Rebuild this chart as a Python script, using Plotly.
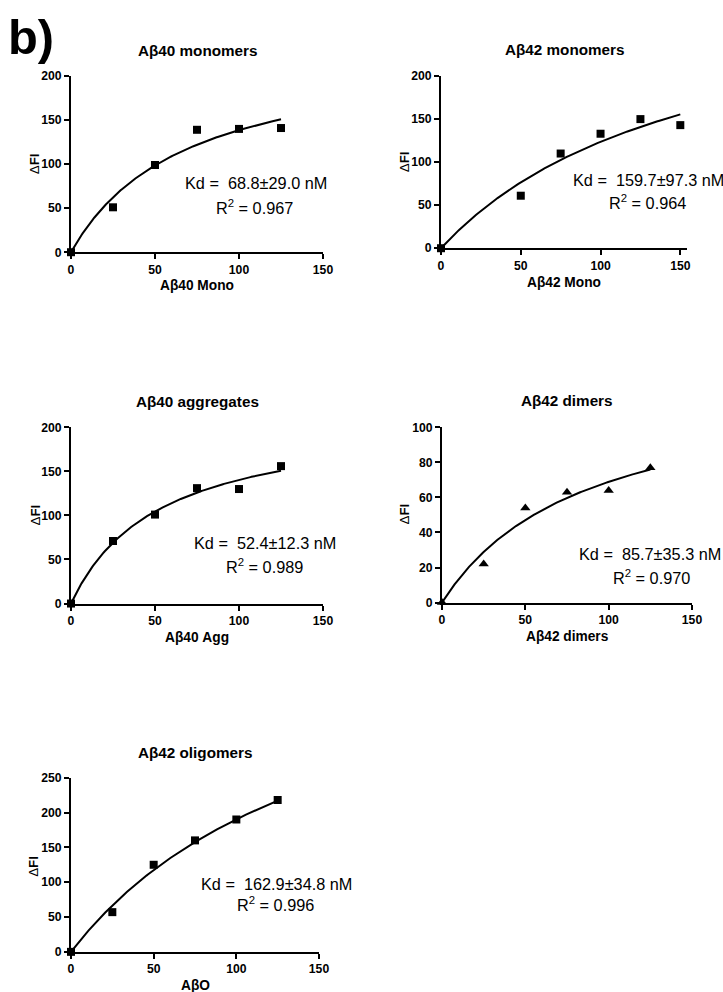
import plotly.graph_objects as go

W, H = 723, 992
FONT = "Liberation Sans"

# ---- data ----
titles = ["Aβ40 monomers", "Aβ42 monomers", "Aβ40 aggregates", "Aβ42 dimers", "Aβ42 oligomers"]
xtitles = ["Aβ40 Mono", "Aβ42 Mono", "Aβ40 Agg", "Aβ42 dimers", "AβO"]

conc_40mono = [0, 25, 50, 75, 100, 125]
fi_40mono = [0, 51, 99, 139, 140, 141]
conc_42mono = [0, 50, 75, 100, 125, 150]
fi_42mono = [0, 61, 110, 133, 150, 143]
conc_40agg = [0, 25, 50, 75, 100, 125]
fi_40agg = [0, 71, 101, 131, 130, 156]
conc_42dim = [0, 25, 50, 75, 100, 125]
fi_42dim = [0, 22, 54, 63, 64, 77]
conc_42olig = [0, 25, 50, 75, 100, 125]
fi_42olig = [0, 57, 125, 160, 190, 218]

# one-site binding fit parameters
kd_vals = [68.8, 159.7, 52.4, 85.7, 162.9]
bmax_vals = [234, 321, 214, 128, 500]
kd_text = ["68.8±29.0", "159.7±97.3", "52.4±12.3", "85.7±35.3", "162.9±34.8"]
r2_text = ["0.967", "0.964", "0.989", "0.970", "0.996"]

yticks = [[0, 50, 100, 150, 200], [0, 50, 100, 150, 200], [0, 50, 100, 150, 200],
          [0, 20, 40, 60, 80, 100], [0, 50, 100, 150, 200, 250]]
xticks = [0, 50, 100, 150]
markers = ["square", "square", "square", "triangle-up", "square"]

xs = [conc_40mono, conc_42mono, conc_40agg, conc_42dim, conc_42olig]
ys = [fi_40mono, fi_42mono, fi_40agg, fi_42dim, fi_42olig]

# ---- layout (target pixel geometry in the final picture) ----
geom = [
    (70, 322, 76, 252, 150),
    (440, 686, 76, 248, 154.2),
    (70, 322, 427, 603, 150),
    (441, 691, 427, 602, 150),
    (70, 318, 777, 951, 150),
]
title_y = [50, 49, 401, 400, 752]
xtitle_y = [285, 282, 637, 636, 986]
ytitle_pos = [(33, 164), (403, 162), (34, 515), (403, 514), (33, 866)]
kd_pos = [(255, 183), (647, 180), (264, 543), (649, 554), (275, 883)]
r2_pos = [(253, 207), (646, 202), (263, 565), (650, 576), (274, 903)]

# observed screenshot mapping compensation
SX, OX, SY, OY = 0.982, 2.0, 0.985, 7.0
FS = 1.0 / 0.983


def px(x):
    return min(max((x - OX) / SX / W, 0), 1)


def py(y):
    return min(max(1 - (y - OY) / SY / H, 0), 1)


fig = go.Figure()
annotations = []
layout_axes = {}

for i in range(5):
    x0, x1, yt, yb, xmax = geom[i]
    ax = "" if i == 0 else str(i + 1)
    xa, ya = "x" + ax, "y" + ax
    ymax = yticks[i][-1]

    # fitted curve: one-site binding, Y = Bmax*X/(Kd+X)
    n = 200
    xmaxdata = max(xs[i])
    cx = [xmaxdata * k / (n - 1) for k in range(n)]
    cy = [bmax_vals[i] * v / (kd_vals[i] + v) for v in cx]
    fig.add_trace(go.Scatter(x=cx, y=cy, mode="lines", line=dict(color="black", width=2),
                             xaxis=xa, yaxis=ya, showlegend=False, hoverinfo="skip",
                             cliponaxis=False))
    fig.add_trace(go.Scatter(x=xs[i], y=ys[i], mode="markers",
                             marker=dict(symbol=markers[i], size=8 if markers[i] == "square" else 9,
                                         color="black"),
                             xaxis=xa, yaxis=ya, showlegend=False, cliponaxis=False))

    common = dict(showline=True, linecolor="black", linewidth=2, ticks="outside",
                  ticklen=5, tickwidth=2, tickcolor="black", showgrid=False, zeroline=False,
                  tickfont=dict(family=FONT, size=12 * FS, color="black", weight="bold"))
    layout_axes["xaxis" + ax] = dict(domain=[px(x0), px(x1)], range=[0, xmax], anchor=ya,
                                     tickvals=xticks, **common)
    layout_axes["yaxis" + ax] = dict(domain=[py(yb), py(yt)], range=[0, ymax], anchor=xa,
                                     tickvals=yticks[i], **common)

    cxm = (x0 + x1) / 2
    annotations.append(dict(text="<b>" + titles[i] + "</b>", x=px(cxm), y=py(title_y[i]),
                            xref="paper", yref="paper", showarrow=False,
                            font=dict(family=FONT, size=15 * FS, color="black"),
                            xanchor="center", yanchor="middle"))
    annotations.append(dict(text="<b>" + xtitles[i] + "</b>", x=px(cxm), y=py(xtitle_y[i]),
                            xref="paper", yref="paper", showarrow=False,
                            font=dict(family=FONT, size=13.5 * FS, color="black"),
                            xanchor="center", yanchor="middle"))
    annotations.append(dict(text="Δ<b>FI</b>", x=px(ytitle_pos[i][0]), y=py(ytitle_pos[i][1]),
                            xref="paper", yref="paper", showarrow=False, textangle=-90,
                            font=dict(family=FONT, size=13 * FS, color="black"),
                            xanchor="center", yanchor="middle"))
    annotations.append(dict(text="Kd =\u00a0\u00a0" + kd_text[i] + " nM",
                            x=px(kd_pos[i][0]), y=py(kd_pos[i][1]),
                            xref="paper", yref="paper", showarrow=False,
                            font=dict(family=FONT, size=16 * FS, color="black"),
                            xanchor="center", yanchor="middle"))
    annotations.append(dict(text="R<sup>2</sup> = " + r2_text[i],
                            x=px(r2_pos[i][0]), y=py(r2_pos[i][1]),
                            xref="paper", yref="paper", showarrow=False,
                            font=dict(family=FONT, size=16 * FS, color="black"),
                            xanchor="center", yanchor="middle"))

annotations.append(dict(text="<b>b)</b>", x=px(30), y=py(37), xref="paper", yref="paper",
                        showarrow=False, font=dict(family=FONT, size=48 * FS, color="black"),
                        xanchor="center", yanchor="middle"))

fig.update_layout(width=W, height=H, margin=dict(l=0, r=0, t=0, b=0),
                  paper_bgcolor="white", plot_bgcolor="white",
                  annotations=annotations, **layout_axes)

fig.write_html("out.html",
               config={"displayModeBar": False},
               post_script=(
                   "document.documentElement.style.margin='0';"
                   "document.documentElement.style.overflow='hidden';"
                   "document.body.style.margin='0';document.body.style.padding='0';"
                   "document.body.style.overflow='hidden';"
                   "var gd=document.getElementsByClassName('plotly-graph-div')[0];"
                   "gd.style.position='fixed';gd.style.top='0px';gd.style.left='0px';"
               ))
